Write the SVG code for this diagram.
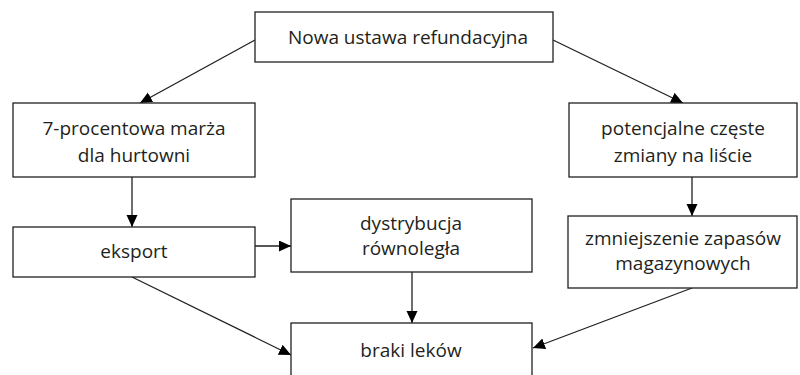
<svg xmlns="http://www.w3.org/2000/svg" width="800" height="375" viewBox="0 0 800 375">
<defs>
<marker id="ah" markerWidth="12" markerHeight="12" refX="12" refY="5.5" orient="auto" markerUnits="userSpaceOnUse">
<path d="M0,0 L12,5.5 L0,11 Z" fill="#000"/>
</marker>
<style>
rect{fill:#fff;stroke:#231f20;stroke-width:1.3}
text{font-family:"Open Sans","Liberation Sans",sans-serif;font-size:19px;fill:#231f20;text-anchor:middle}
.c line{stroke:#231f20;stroke-width:1.3;marker-end:url(#ah)}
</style>
</defs>
<rect x="0" y="0" width="800" height="375" fill="#fff" stroke="none" style="stroke:none"/>
<g class="c" id="connectors">
<line x1="255" y1="40" x2="140" y2="103"/>
<line x1="553" y1="40" x2="683" y2="103"/>
<line x1="132" y1="177" x2="132" y2="227"/>
<line x1="692" y1="177" x2="692" y2="216"/>
<line x1="255" y1="246" x2="291" y2="246"/>
<line x1="412" y1="272" x2="412" y2="323"/>
<line x1="132" y1="277" x2="291" y2="355"/>
<line x1="692" y1="288" x2="533" y2="348"/>
</g>
<g id="n1"><rect x="255" y="12" width="298" height="50"/><text x="408" y="44">Nowa ustawa refundacyjna</text></g>
<g id="n2"><rect x="13" y="103" width="242" height="74"/><text x="134" y="135">7-procentowa marża</text><text x="134" y="162">dla hurtowni</text></g>
<g id="n3"><rect x="569" y="103" width="228" height="74"/><text x="683" y="135">potencjalne częste</text><text x="683" y="162">zmiany na liście</text></g>
<g id="n4"><rect x="13" y="227" width="242" height="50"/><text x="134" y="258">eksport</text></g>
<g id="n5"><rect x="291" y="199" width="241" height="73"/><text x="411" y="230">dystrybucja</text><text x="411" y="255">równoległa</text></g>
<g id="n6"><rect x="568" y="216" width="229" height="72"/><text x="683" y="245">zmniejszenie zapasów</text><text x="683" y="270">magazynowych</text></g>
<g id="n7"><rect x="291" y="323" width="241" height="60"/><text x="411" y="357">braki leków</text></g>
</svg>
